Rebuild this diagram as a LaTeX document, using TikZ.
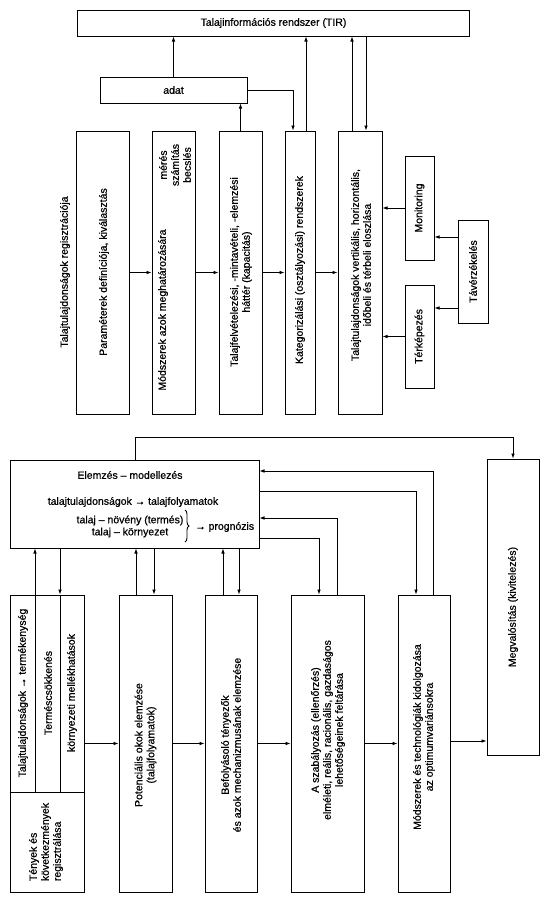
\documentclass[tikz,border=0pt]{standalone}
\usepackage{fontspec}
\setmainfont{Liberation Sans}[FakeBold=0.7]
\usetikzlibrary{arrows.meta,decorations.pathreplacing}
\begin{document}
\begin{tikzpicture}[x=1pt,y=-1pt,
  every node/.style={font=\fontsize{10.5}{12}\selectfont},
  box/.style={draw, line width=1pt, inner sep=0pt},
  txt/.style={inner sep=0pt, align=center},
  rtxt/.style={txt, rotate=90},
  arr/.style={line width=0.75pt, -{Latex[length=5pt,width=3.6pt]}},
  ln/.style={line width=0.75pt}]
\useasboundingbox (0,0) rectangle (548,900);
\fill[white] (0,0) rectangle (548,900);

% ---------- upper diagram ----------
\node[box, minimum width=392pt, minimum height=26pt] (tir) at (273.5,23) {Talajinformációs rendszer (TIR)};
\node[box, minimum width=147pt, minimum height=26pt] (adat) at (173.5,90) {adat};
\node[box, minimum width=53pt, minimum height=283pt] (b1) at (102.5,272.5) {};
\node[box, minimum width=43pt, minimum height=283pt] (b2) at (173.5,272.5) {};
\node[box, minimum width=43pt, minimum height=283pt] (b3) at (240.5,272.5) {};
\node[box, minimum width=30pt, minimum height=283pt] (b4) at (300,272.5) {};
\node[box, minimum width=44pt, minimum height=283pt] (b5) at (360,272.5) {};
\node[box, minimum width=29pt, minimum height=104pt] (mon) at (419.5,208) {};
\node[box, minimum width=29pt, minimum height=103pt] (terk) at (419.5,336.5) {};
\node[box, minimum width=30pt, minimum height=103pt] (tav) at (473,271.5) {};

\node[rtxt] (treg) at (65,272) {Talajtulajdonságok regisztrációja};
\node[rtxt] (t1) at (104,272) {Paraméterek definíciója, kiválasztás};
\node[rtxt] (t2) at (163,310) {Módszerek azok meghatározására};
\node[rtxt] (t2b) at (175,165) {mérés\\számítás\\becslés};
\node[rtxt] (t3) at (241,272) {Talajfelvételezési, -mintavételi, -elemzési\\háttér (kapacitás)};
\node[rtxt] (t4) at (300,270) {Kategorizálási (osztályozási) rendszerek};
\node[rtxt] (t5) at (361,265) {Talajtulajdonságok vertikális, horizontális,\\időbeli és térbeli eloszlása};
\node[rtxt] (tmon) at (mon) {Monitoring};
\node[rtxt] (tterk) at (terk) {Térképezés};
\node[rtxt] (ttav) at (tav) {Távérzékelés};

\draw[arr] (b1) -- (b2);
\draw[arr] (b2) -- (b3);
\draw[arr] (b3) -- (b4);
\draw[arr] (b4) -- (b5);
\draw[arr] (mon) -- (mon.west -| b5.east);
\draw[arr] (terk) -- (terk.west -| b5.east);
\draw[arr] (tav.west |- 0,237) -- (mon.east |- 0,237);
\draw[arr] (tav.west |- 0,308) -- (terk.east |- 0,308);
\draw[arr] (adat.north) -- (adat.north |- tir.south);
\draw[arr] (b3.north) -- (b3.north |- adat.south);
\draw[arr] (adat.east) -| (293,0 |- b4.north);
\draw[arr] (306,0 |- b4.north) -- (306,0 |- tir.south);
\draw[arr] (352,0 |- b5.north) -- (352,0 |- tir.south);
\draw[arr] (366,0 |- tir.south) -- (366,0 |- b5.north);

% ---------- lower diagram ----------
\node[box, minimum width=249pt, minimum height=88pt] (elem) at (134.5,504) {};
\node[box, minimum width=74pt, minimum height=297pt] (c1) at (47,743.5) {};
\node[box, minimum width=53pt, minimum height=297pt] (c2) at (145.5,743.5) {};
\node[box, minimum width=52pt, minimum height=297pt] (c3) at (231,743.5) {};
\node[box, minimum width=73pt, minimum height=297pt] (c4) at (327.5,743.5) {};
\node[box, minimum width=52pt, minimum height=297pt] (c5) at (424,743.5) {};
\node[box, minimum width=52pt, minimum height=296pt] (megv) at (513,607) {};

\draw[line width=1pt] (c1.west |- 0,792) -- (c1.east |- 0,792);
\draw[line width=1pt] (35,0 |- c1.north) -- (35,792);
\draw[line width=1pt] (60,0 |- c1.north) -- (60,792);

\node[txt] (te1) at (130,475) {Elemzés – modellezés};
\node[txt] (te2) at (133,502) {talajtulajdonságok → talajfolyamatok};
\node[txt] (te3) at (130,526.5) {talaj – növény (termés)\\talaj – környezet};
\draw[line width=0.9pt, decorate, decoration={brace, amplitude=4pt}] (185,510) -- (185,542);
\node[txt, anchor=west] (te4) at (195,527) {→ prognózis};

\node[rtxt] (tc1a) at (23,693) {Talajtulajdonságok → termékenység};
\node[rtxt] (tc1b) at (48,693) {Terméscsökkenés};
\node[rtxt] (tc1c) at (72,693) {környezeti mellékhatások};
\node[rtxt, align=left] (tc1d) at (46,842) {Tények és\\következmények\\regisztrálása};
\node[rtxt] (tc2) at (145.5,745) {Potenciális okok elemzése\\(talajfolyamatok)};
\node[rtxt] (tc3) at (231,745) {Befolyásoló tényezők\\és azok mechanizmusának elemzése};
\node[rtxt] (tc4) at (328,730) {A szabályozás (ellenőrzés)\\elméleti, reális, racionális, gazdaságos\\lehetőségeinek feltárása};
\node[rtxt] (tc5) at (424,737) {Módszerek és technológiák kidolgozása\\az optimumvariánsokra};
\node[rtxt] (tmegv) at (megv) {Megvalósítás (kivitelezés)};

\draw[arr] (c1) -- (c2);
\draw[arr] (c2) -- (c3);
\draw[arr] (c3) -- (c4);
\draw[arr] (c4) -- (c5);
\draw[arr] (c5.east |- 0,741) -- (megv.west |- 0,741);

\draw[arr] (35,0 |- c1.north) -- (35,0 |- elem.south);
\draw[arr] (60,0 |- elem.south) -- (60,0 |- c1.north);
\draw[arr] (136,0 |- c2.north) -- (136,0 |- elem.south);
\draw[arr] (154,0 |- elem.south) -- (154,0 |- c2.north);
\draw[arr] (223,0 |- c3.north) -- (223,0 |- elem.south);
\draw[arr] (239,0 |- elem.south) -- (239,0 |- c3.north);

\draw[arr] (433,0 |- c5.north) |- (elem.east |- 0,471);
\draw[arr] (elem.east |- 0,491) -| (416,0 |- c5.north);
\draw[arr] (337,0 |- c4.north) |- (elem.east |- 0,518);
\draw[arr] (elem.east |- 0,538) -| (319,0 |- c4.north);
\draw[arr] (135,0 |- elem.north) |- (megv.north |- 0,437) -- (megv.north);
\end{tikzpicture}
\end{document}
